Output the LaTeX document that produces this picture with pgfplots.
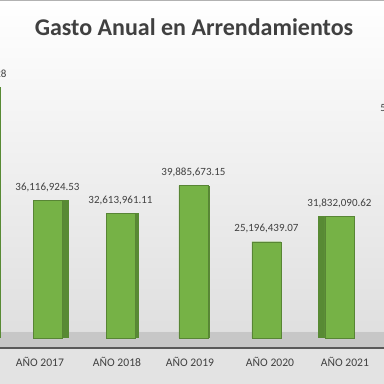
\documentclass[border=0pt]{standalone}
\usepackage{fontspec}
\setmainfont{Carlito}
\usepackage{pgfplots}
\usepackage{pgfplotstable}
\pgfplotsset{compat=1.18}
\definecolor{barfront}{RGB}{118,178,70}
\definecolor{barside}{RGB}{88,138,52}
\definecolor{txt}{RGB}{64,64,64}
\pgfplotstableread{
x y label
0 65712345.28 65,712,345.28
1 36116924.53 36,116,924.53
2 32613961.11 32,613,961.11
3 39885673.15 39,885,673.15
4 25196439.07 25,196,439.07
5 31832090.62 31,832,090.62
6 56812345.40 56,812,345.40
}\gasto
\begin{document}
\begin{tikzpicture}[x=1pt,y=1pt]
\useasboundingbox (0,0) rectangle (384,384);
\clip (0,0) rectangle (384,384);
\shade[top color=white, bottom color=black!13] (0,36) rectangle (384,384);
\fill[black!11] (0,0) rectangle (384,36);
\fill[black!22] (0,36) rectangle (384,52);
\draw[black!65, line width=1.2pt] (0,36) -- (384,36);
\draw[black!30] (0,383.5) -- (384,383.5);
\node[font=\bfseries\fontsize{24}{28}\selectfont, text=txt] at (194,357) {Gasto Anual en Arrendamientos};
\begin{axis}[at={(0pt,36pt)}, anchor=south west, scale only axis,
  width=384pt, height=348pt,
  xmin=0.3493, xmax=5.6096, ymin=-2.618e6, ymax=88.48e6,
  clip=false,
  axis line style={draw=none}, tick style={draw=none},
  ytick=\empty,
  xtick={0.897,1.952,2.952,4.048,5.075},
  xticklabels={AÑO 2017,AÑO 2018,AÑO 2019,AÑO 2020,AÑO 2021},
  xticklabel style={anchor=center, yshift=-14pt, font=\fontsize{11.6}{13}\selectfont, text=txt},
]
\addplot[ybar, bar width=7pt, bar shift=18pt, fill=barside, draw=none] coordinates {(1,36116924.53)};
\addplot[ybar, bar width=12pt, bar shift=20.5pt, fill=barside, draw=none] coordinates {(0,65712345.28)};
\addplot[ybar, bar width=4pt, bar shift=16.5pt, fill=barside, draw=none] coordinates {(2,32613961.11)};
\addplot[ybar, bar width=2pt, bar shift=15.5pt, fill=barside, draw=none] coordinates {(3,39885673.15)};
\addplot[ybar, bar width=7pt, bar shift=-18pt, fill=barside, draw=none] coordinates {(5,31832090.62)};
\addplot[ybar, bar width=29pt, bar shift=0pt, fill=barfront, draw=barfront!75!black,
  point meta=explicit symbolic, nodes near coords,
  every node near coord/.append style={anchor=center, yshift=13pt, font=\fontsize{11}{13}\selectfont, text=txt}]
  table[x=x, y=y, meta=label]{\gasto};
\end{axis}
\end{tikzpicture}
\end{document}
